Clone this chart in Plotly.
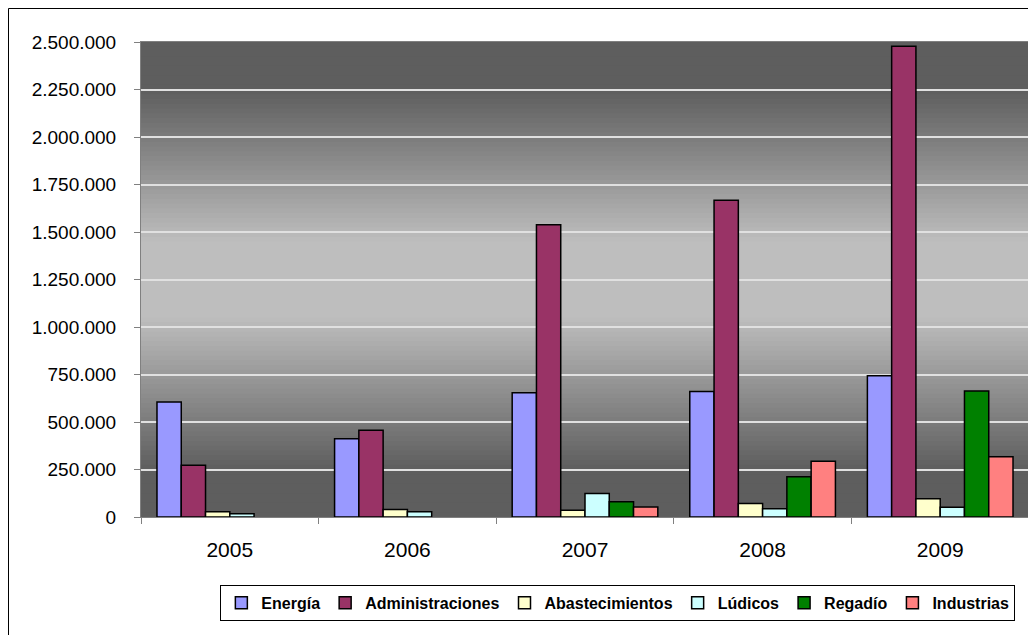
import plotly.graph_objects as go

# Datos
anios = ["2005", "2006", "2007", "2008", "2009"]
energia = [605000, 412000, 654000, 661000, 743000]
administraciones = [272000, 456000, 1538000, 1667000, 2477000]
abastecimientos = [28000, 39000, 35000, 71000, 96000]
ludicos = [17000, 28000, 124000, 44000, 51000]
regadio = [None, None, 80000, 212000, 663000]
industrias = [None, None, 53000, 293000, 317000]

series = [
    ("Energía", energia, "#9999FF"),
    ("Administraciones", administraciones, "#993366"),
    ("Abastecimientos", abastecimientos, "#FFFFCC"),
    ("Lúdicos", ludicos, "#CCFFFF"),
    ("Regadío", regadio, "#008000"),
    ("Industrias", industrias, "#FF8080"),
]

fig = go.Figure()
for nombre, valores, color in series:
    fig.add_trace(go.Bar(
        x=anios, y=valores, name=nombre,
        marker=dict(color=color, line=dict(color="#000000", width=1.5)),
    ))

# fondo degradado del area de trazado (oscuro - claro - oscuro)
n = 100
for i in range(n):
    t = (i + 0.5) / n
    d = abs(t - 0.5)
    if d < 0.08:
        g = 190
    else:
        g = 190 - (d - 0.08) / 0.32 * (190 - 94)
    g = int(max(94, min(190, g)))
    fig.add_shape(type="rect", xref="x domain", yref="y domain",
                  x0=0, x1=1, y0=i / n, y1=(i + 1) / n + 0.002,
                  fillcolor=f"rgb({g},{g},{g})", line=dict(width=0), layer="below")

# la pagina tiene 8px de margen en el body
W, H = 1028, 627
ml, mr, mt, mb = 133, 7, 34, 118
pw, ph = W - ml - mr, H - mt - mb

# borde exterior del grafico
fig.add_shape(type="rect", xref="paper", yref="paper",
              x0=(0.5 - ml) / pw, x1=(W + 20 - ml) / pw,
              y0=(H - mb - 700) / ph, y1=(H - mb - 0.5) / ph,
              line=dict(color="#000000", width=1), fillcolor="rgba(0,0,0,0)")

fig.update_layout(
    width=W, height=H,
    margin=dict(l=ml, r=mr, t=mt, b=mb),
    paper_bgcolor="white",
    plot_bgcolor="rgba(0,0,0,0)",
    barmode="group",
    bargap=0.18,
    bargroupgap=0,
    separators=",.",
    font=dict(family="Liberation Sans, Arial, sans-serif", color="#000000"),
    showlegend=True,
    legend=dict(
        orientation="h", x=0.537, xanchor="center", y=-0.143, yanchor="top",
        bordercolor="#000000", borderwidth=1, bgcolor="white",
        font=dict(size=16, family="Liberation Sans, Arial, sans-serif", weight="bold"),
        itemwidth=30, tracegroupgap=0,
    ),
)

fig.update_xaxes(
    type="category", tickson="boundaries",
    showline=True, linecolor="#808080", linewidth=1, mirror=True,
    ticks="outside", ticklen=6, tickcolor="#808080",
    tickfont=dict(size=21), ticklabelstandoff=14, showgrid=False,
)
fig.update_yaxes(
    range=[0, 2500000], dtick=250000, tickformat=",d",
    showline=True, linecolor="#808080", linewidth=1, mirror=True,
    ticks="outside", ticklen=6, tickcolor="#808080",
    tickfont=dict(size=19), ticklabelstandoff=14,
    showgrid=True, gridcolor="#E0E0E0", gridwidth=1.5,
    zeroline=False,
)

fig.write_html("out.html")
